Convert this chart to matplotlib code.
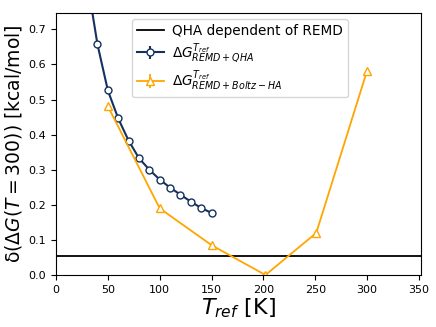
import matplotlib
matplotlib.use("Agg")
import matplotlib.pyplot as plt

T_qha = [30, 40, 50, 60, 70, 80, 90, 100, 110, 120, 130, 140, 150]
dG_qha = [0.84, 0.657, 0.526, 0.446, 0.383, 0.333, 0.300, 0.272, 0.249, 0.229, 0.209, 0.191, 0.177]

T_boltz = [50, 100, 150, 202, 251, 300]
dG_boltz = [0.481, 0.190, 0.085, 0.0, 0.120, 0.582]

qha_remd = 0.055

fig = plt.figure(figsize=(4.36, 3.27), dpi=100)
ax = fig.add_axes([56/436, 1 - 275/327, 365/436, 262.5/327])

ax.axhline(qha_remd, color='black', lw=1.3, label='QHA dependent of REMD')
ax.errorbar(T_qha, dG_qha, yerr=[0]*len(T_qha), color='#14325f', marker='o',
            markerfacecolor='white', markersize=5, lw=1.5,
            label=r'$\Delta G^{T_{ref}}_{REMD+QHA}$')
ax.errorbar(T_boltz, dG_boltz, yerr=[0]*len(T_boltz), color='orange', marker='^',
            markerfacecolor='white', markersize=6, lw=1.3,
            label=r'$\Delta G^{T_{ref}}_{REMD+Boltz-HA}$')

ax.set_xlim(0, 352)
ax.set_ylim(0, 0.748)
ax.set_xticks([0, 50, 100, 150, 200, 250, 300, 350])
ax.tick_params(labelsize=8)
ax.set_xlabel(r'$T_{ref}$ [K]', fontsize=16, labelpad=1)
ax.set_ylabel(r'δ($\Delta G(T=300)$) [kcal/mol]', fontsize=13.5, labelpad=3)
ax.legend(loc='upper left', fontsize=9.8, handlelength=2, handletextpad=0.6,
          borderpad=0.35, bbox_to_anchor=((132 - 56) / 365, 1 - 6.5 / 262.5),
          borderaxespad=0, labelspacing=0.25)

fig.savefig('out.png', dpi=100)
